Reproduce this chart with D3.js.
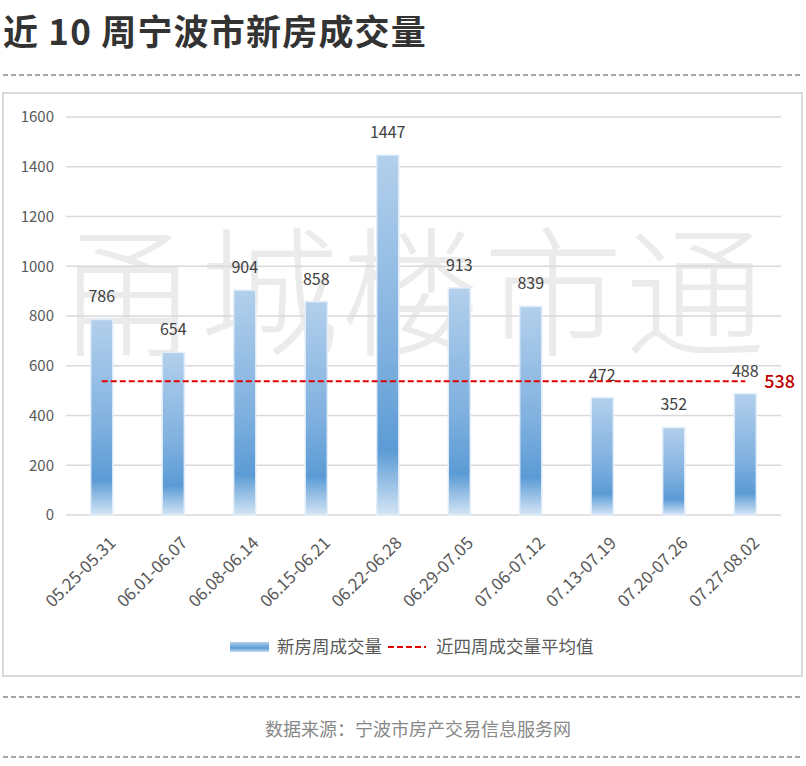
<!DOCTYPE html>
<html>
<head>
<meta charset="utf-8">
<script src="https://cdn.jsdelivr.net/npm/d3@7"></script>
<style>
  body { margin: 0; background: #fff; font-family: "Noto Sans CJK SC", "Noto Sans", sans-serif; }
  svg text { font-family: "Noto Sans CJK SC", "Noto Sans", sans-serif; }
</style>
</head>
<body>
<div id="chart"></div>
<script>
// weekly new-home deals, Ningbo
const WEEKS = ["05.25-05.31", "06.01-06.07", "06.08-06.14", "06.15-06.21", "06.22-06.28",
               "06.29-07.05", "07.06-07.12", "07.13-07.19", "07.20-07.26", "07.27-08.02"];
const DEALS = [786, 654, 904, 858, 1447, 913, 839, 472, 352, 488];
const AVG4 = 538;
const Y_TICKS = [0, 200, 400, 600, 800, 1000, 1200, 1400, 1600];

const TITLE = "近 10 周宁波市新房成交量";
const SOURCE = "数据来源：宁波市房产交易信息服务网";
const LEGEND = ["新房周成交量", "近四周成交量平均值"];
const WATERMARK = "甬城楼市通";

const W = 806, H = 766;

const svg = d3.select("#chart").append("svg")
    .attr("width", W).attr("height", H);

// ── gradient for bars ─────────────────────────────────────────────
const defs = svg.append("defs");
const grad = defs.append("linearGradient")
    .attr("id", "barGrad").attr("x1", 0).attr("y1", 0).attr("x2", 0).attr("y2", 1);
grad.append("stop").attr("offset", "0%").attr("stop-color", "#b3d0ec");
grad.append("stop").attr("offset", "55%").attr("stop-color", "#7fb0df");
grad.append("stop").attr("offset", "82%").attr("stop-color", "#5b9bd5");
grad.append("stop").attr("offset", "100%").attr("stop-color", "#d4e5f5");

const legGrad = defs.append("linearGradient")
    .attr("id", "legGrad").attr("x1", 0).attr("y1", 0).attr("x2", 0).attr("y2", 1);
legGrad.append("stop").attr("offset", "0%").attr("stop-color", "#b3d0ec");
legGrad.append("stop").attr("offset", "60%").attr("stop-color", "#5b9bd5");
legGrad.append("stop").attr("offset", "100%").attr("stop-color", "#c9ddf1");

// ── title + separators ───────────────────────────────────────────
svg.append("text")
    .attr("x", 3).attr("y", 45)
    .attr("font-size", 35).attr("font-weight", 700)
    .attr("letter-spacing", 1.2)
    .attr("fill", "#333")
    .text(TITLE);

[75, 697, 757].forEach(y => {
    svg.append("line")
        .attr("x1", 3).attr("x2", 803).attr("y1", y).attr("y2", y)
        .attr("stroke", "#8c8c8c").attr("stroke-width", 1.5)
        .attr("stroke-dasharray", "5,3");
});

// ── chart frame ──────────────────────────────────────────────────
svg.append("rect")
    .attr("x", 3).attr("y", 93).attr("width", 799).attr("height", 583)
    .attr("fill", "#fff").attr("stroke", "#d9d9d9").attr("stroke-width", 2);

// ── scales ──────────────────────────────────────────────────────
const x = d3.scaleBand().domain(WEEKS).range([66, 781]).paddingInner(0.69).paddingOuter(0.345);
const y = d3.scaleLinear().domain([0, 1600]).range([515, 117]);

// watermark
svg.append("text")
    .attr("x", 412).attr("y", 345)
    .attr("text-anchor", "middle")
    .attr("font-size", 140).attr("font-weight", 300)
    .attr("letter-spacing", 2)
    .attr("fill", "#ebebeb")
    .text(WATERMARK);

// grid
svg.append("g")
    .selectAll("line")
    .data(Y_TICKS)
    .join("line")
    .attr("x1", 66).attr("x2", 781)
    .attr("y1", d => y(d)).attr("y2", d => y(d))
    .attr("stroke", "#d9d9d9").attr("stroke-width", 1.5);

// y axis labels
const yAxis = svg.append("g")
    .attr("transform", "translate(66,0)")
    .call(d3.axisLeft(y).tickValues(Y_TICKS).tickFormat(d3.format("d")).tickSize(0).tickPadding(12));
yAxis.select(".domain").remove();
yAxis.selectAll("text").attr("font-size", 15).attr("fill", "#595959");

// x axis labels
const xAxis = svg.append("g")
    .attr("transform", "translate(0,515)")
    .call(d3.axisBottom(x).tickSize(0));
xAxis.select(".domain").remove();
xAxis.selectAll("text")
    .attr("font-size", 17).attr("fill", "#595959")
    .attr("text-anchor", "end")
    .attr("dy", 0)
    .attr("transform", "translate(13,27) rotate(-45)");

// bars
svg.append("g")
    .selectAll("rect")
    .data(DEALS)
    .join("rect")
    .attr("x", (d, i) => x(WEEKS[i]))
    .attr("y", d => y(d))
    .attr("width", x.bandwidth())
    .attr("height", d => y(0) - y(d))
    .attr("fill", "url(#barGrad)")
    .attr("stroke", "#e3eef9").attr("stroke-width", 1.5);

// value labels
svg.append("g")
    .selectAll("text")
    .data(DEALS)
    .join("text")
    .attr("x", (d, i) => x(WEEKS[i]) + x.bandwidth() / 2)
    .attr("y", d => y(d) - 17)
    .attr("text-anchor", "middle")
    .attr("font-size", 16).attr("fill", "#404040")
    .text(d => d);

// average line
const xFirst = x(WEEKS[0]) + x.bandwidth() / 2;
const xLast = x(WEEKS[WEEKS.length - 1]) + x.bandwidth() / 2;
svg.append("line")
    .attr("x1", xFirst).attr("x2", xLast)
    .attr("y1", y(AVG4)).attr("y2", y(AVG4))
    .attr("stroke", "#e00000").attr("stroke-width", 2)
    .attr("stroke-dasharray", "6,3");

svg.append("text")
    .attr("x", xLast + 19).attr("y", y(AVG4) + 7)
    .attr("font-size", 18).attr("font-weight", 500)
    .attr("fill", "#c00000")
    .text(AVG4);

// legend
const leg = svg.append("g");
leg.append("rect")
    .attr("x", 230).attr("y", 642).attr("width", 39).attr("height", 10)
    .attr("fill", "url(#legGrad)");
leg.append("text")
    .attr("x", 277).attr("y", 653)
    .attr("font-size", 17.5).attr("fill", "#595959")
    .text(LEGEND[0]);
leg.append("line")
    .attr("x1", 388).attr("x2", 426).attr("y1", 647).attr("y2", 647)
    .attr("stroke", "#e00000").attr("stroke-width", 2)
    .attr("stroke-dasharray", "6,3");
leg.append("text")
    .attr("x", 436).attr("y", 653)
    .attr("font-size", 17.5).attr("fill", "#595959")
    .text(LEGEND[1]);

// source
svg.append("text")
    .attr("x", 418).attr("y", 736)
    .attr("text-anchor", "middle")
    .attr("font-size", 18).attr("fill", "#888")
    .text(SOURCE);
</script>
</body>
</html>
